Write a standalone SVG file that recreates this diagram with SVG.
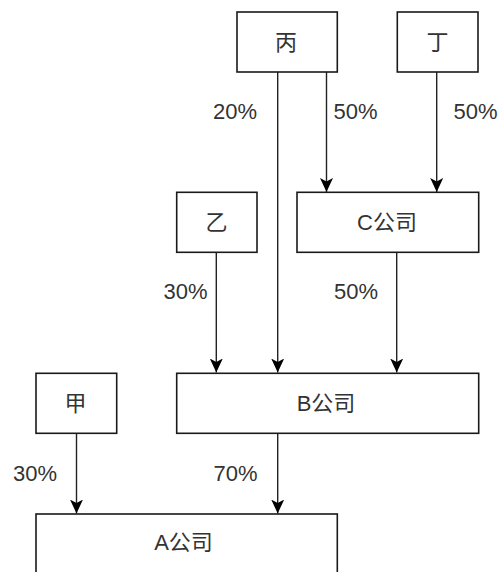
<svg xmlns="http://www.w3.org/2000/svg" width="499" height="572" viewBox="0 0 499 572">
<defs>
<style>
.box{fill:#fff;stroke:#1a1a1a;stroke-width:1.6}
.t{font-family:"Liberation Sans","Noto Sans CJK SC",sans-serif;font-size:22px;fill:#333;text-anchor:middle;dominant-baseline:central}
.lbl{font-family:"Liberation Sans","Noto Sans CJK SC",sans-serif;font-size:22px;fill:#333;text-anchor:middle;dominant-baseline:central}
.c{stroke:#222;stroke-width:1.4;fill:none;marker-end:url(#ah)}
</style>
<marker id="ah" markerUnits="userSpaceOnUse" markerWidth="16" markerHeight="14" refX="14" refY="7" orient="auto">
<path d="M0,0.5 L14,7 L0,13.5 L3.5,7 z" fill="#000"/>
</marker>
</defs>
<rect width="499" height="572" fill="#fff"/>
<g id="connectors">
<line class="c" x1="326.5" y1="72" x2="326.5" y2="192"/>
<line class="c" x1="436.7" y1="72" x2="436.7" y2="192"/>
<line class="c" x1="277.7" y1="72" x2="277.7" y2="372.5"/>
<line class="c" x1="216.3" y1="252" x2="216.3" y2="372.5"/>
<line class="c" x1="396.7" y1="252" x2="396.7" y2="372.5"/>
<line class="c" x1="76.5" y1="433" x2="76.5" y2="513.5"/>
<line class="c" x1="277.7" y1="433" x2="277.7" y2="513.5"/>
<text class="lbl" x="235" y="111.5">20%</text>
<text class="lbl" x="355.5" y="111.5">50%</text>
<text class="lbl" x="475.5" y="111.5">50%</text>
<text class="lbl" x="185.5" y="291.5">30%</text>
<text class="lbl" x="356" y="291.5">50%</text>
<text class="lbl" x="35" y="473">30%</text>
<text class="lbl" x="235.5" y="473">70%</text>
</g>
<g id="bing"><rect class="box" x="237" y="12" width="100.3" height="60"/><text class="t" x="286" y="42">丙</text></g>
<g id="ding"><rect class="box" x="397.3" y="12" width="80.7" height="60"/><text class="t" x="437.5" y="42">丁</text></g>
<g id="yi"><rect class="box" x="176.7" y="192.3" width="80.3" height="60"/><text class="t" x="216.5" y="222.3">乙</text></g>
<g id="c"><rect class="box" x="297" y="192.3" width="181.7" height="60"/><text class="t" x="387" y="222.3">C公司</text></g>
<g id="jia"><rect class="box" x="36" y="373.3" width="80.7" height="60"/><text class="t" x="75.5" y="403.3">甲</text></g>
<g id="b"><rect class="box" x="176.7" y="373.3" width="302" height="60"/><text class="t" x="326" y="403.3">B公司</text></g>
<g id="a"><rect class="box" x="36" y="514" width="301.3" height="62"/><text class="t" x="183.5" y="542">A公司</text></g>
</svg>
